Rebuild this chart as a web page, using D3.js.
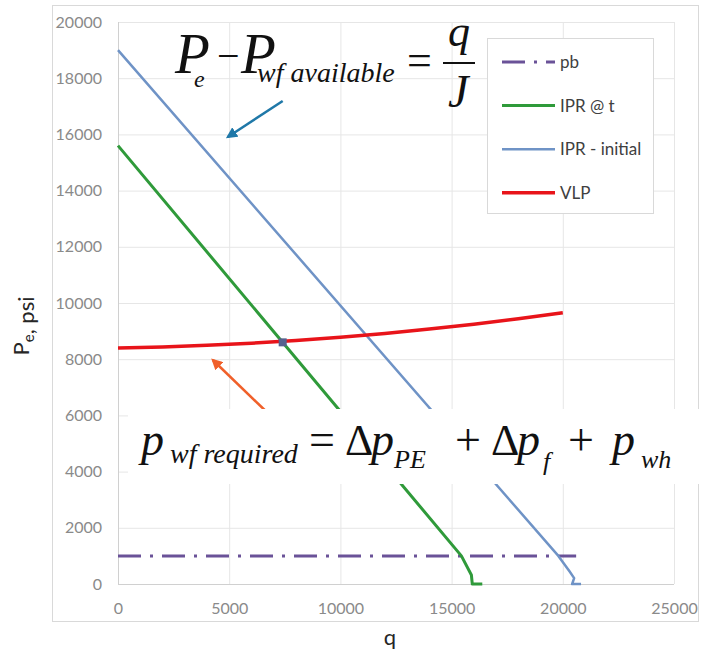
<!DOCTYPE html>
<html>
<head>
<meta charset="utf-8">
<script src="https://cdn.jsdelivr.net/npm/d3@7"></script>
<style>
  body { margin: 0; background: #fff; }
  svg { display: block; }
</style>
</head>
<body>
<div id="chart"></div>
<script>
// axis ticks
var qTicks = [0, 5000, 10000, 15000, 20000, 25000];
var pTicks = [0, 2000, 4000, 6000, 8000, 10000, 12000, 14000, 16000, 18000, 20000];

var seriesNames = ["pb", "IPR @ t", "IPR - initial", "VLP"];

// bubble point pressure
var pbQ = [0, 20600];
var pbP = [1000, 1000];

// IPR at time t
var iprTQ = [0, 15440, 15890, 15930, 16380];
var iprTP = [15600, 1000, 320, 0, 0];

// IPR initial
var iprInitQ = [0, 19800, 20300, 20510, 20420, 20820];
var iprInitP = [19000, 1000, 450, 210, 0, 0];

// VLP
var vlpQ = [0, 2000, 4000, 6000, 8000, 10000, 12000, 14000, 16000, 18000, 20000];
var vlpP = [8400, 8438, 8495, 8571, 8667, 8782, 8917, 9071, 9244, 9438, 9650];

// operating point (IPR @ t x VLP)
var opQ = [7405];
var opP = [8600];

// annotation arrows: q0, p0 -> q1, p1
var arrowAvail = [7405, 17190, 4937, 15910];
var arrowReq = [6687, 6121, 4264, 7972];

var W = 703, H = 662;
var plotL = 118, plotR = 674, plotT = 22, plotB = 584;

var svg = d3.select("#chart").append("svg")
    .attr("width", W)
    .attr("height", H)
    .style("background", "#fff");

var x = d3.scaleLinear().domain([0, 25000]).range([plotL, plotR]);
var y = d3.scaleLinear().domain([0, 20000]).range([plotB, plotT]);

// chart area border
svg.append("rect")
    .attr("x", 52.5).attr("y", 5.5)
    .attr("width", 646).attr("height", 616)
    .attr("fill", "none")
    .attr("stroke", "#d9d9d9");

// gridlines + tick labels
var yAxis = svg.append("g")
    .attr("transform", `translate(${plotL},0)`)
    .call(d3.axisLeft(y).tickValues(pTicks).tickFormat(d3.format("d"))
        .tickSize(-(plotR - plotL)).tickSizeOuter(0).tickPadding(16));
var xAxis = svg.append("g")
    .attr("transform", `translate(0,${plotB})`)
    .call(d3.axisBottom(x).tickValues(qTicks).tickFormat(d3.format("d"))
        .tickSize(-(plotB - plotT)).tickSizeOuter(0).tickPadding(19));

[yAxis, xAxis].forEach(function(g) {
    g.select(".domain").remove();
    g.selectAll(".tick line").attr("stroke", "#e6e6e6");
    g.selectAll(".tick text")
        .style("font-family", "Lato, 'Open Sans', sans-serif")
        .style("font-size", "16px")
        .attr("fill", "#8a8a8a");
});

svg.append("line")
    .attr("x1", plotL + 0.5).attr("x2", plotL + 0.5)
    .attr("y1", plotT).attr("y2", plotB)
    .attr("stroke", "#d0d0d0");
svg.append("line")
    .attr("x1", plotL).attr("x2", plotR)
    .attr("y1", plotB + 0.5).attr("y2", plotB + 0.5)
    .attr("stroke", "#d0d0d0");

var line = d3.line()
    .x(function(d) { return x(d[0]); })
    .y(function(d) { return y(d[1]); });

function zip(a, b) { return a.map(function(v, i) { return [v, b[i]]; }); }

var styles = {
    "pb": {color: "#6a5298", width: 3, dash: "23,9,3,9"},
    "IPR @ t": {color: "#2f9a3a", width: 3, dash: null},
    "IPR - initial": {color: "#6f93c6", width: 2.5, dash: null},
    "VLP": {color: "#e8141a", width: 3.5, dash: null}
};

var series = [
    {name: "pb", data: zip(pbQ, pbP)},
    {name: "IPR @ t", data: zip(iprTQ, iprTP)},
    {name: "IPR - initial", data: zip(iprInitQ, iprInitP)},
    {name: "VLP", data: zip(vlpQ, vlpP)}
];

svg.selectAll("path.series")
    .data(series)
    .enter()
    .append("path")
    .attr("class", "series")
    .attr("d", function(d) { return line(d.data); })
    .attr("fill", "none")
    .attr("stroke", function(d) { return styles[d.name].color; })
    .attr("stroke-width", function(d) { return styles[d.name].width; })
    .attr("stroke-dasharray", function(d) { return styles[d.name].dash; })
    .attr("stroke-linejoin", "round");

// operating point
svg.selectAll("rect.op")
    .data(zip(opQ, opP))
    .enter()
    .append("rect")
    .attr("class", "op")
    .attr("x", function(d) { return x(d[0]) - 4; })
    .attr("y", function(d) { return y(d[1]) - 4; })
    .attr("width", 8).attr("height", 8)
    .attr("fill", "#56618f");

// arrows
var defs = svg.append("defs");
function arrow(id, color, a) {
    defs.append("marker")
        .attr("id", id)
        .attr("viewBox", "0 0 10 10")
        .attr("refX", 8).attr("refY", 5)
        .attr("markerWidth", 4.5).attr("markerHeight", 4.5)
        .attr("markerUnits", "strokeWidth")
        .attr("orient", "auto")
        .append("path")
        .attr("d", "M0,0L10,5L0,10Z")
        .attr("fill", color);
    svg.append("line")
        .attr("x1", x(a[0])).attr("y1", y(a[1]))
        .attr("x2", x(a[2])).attr("y2", y(a[3]))
        .attr("stroke", color)
        .attr("stroke-width", 2.5)
        .attr("marker-end", `url(#${id})`);
}
arrow("arrAvail", "#1f78a8", arrowAvail);
arrow("arrReq", "#f0602a", arrowReq);

// legend
var lg = svg.append("g");
lg.append("rect")
    .attr("x", 487.5).attr("y", 38.5)
    .attr("width", 166).attr("height", 175)
    .attr("fill", "#fff")
    .attr("stroke", "#d9d9d9");
var items = lg.selectAll("g.item")
    .data(seriesNames)
    .enter()
    .append("g")
    .attr("transform", function(d, i) { return `translate(502,${62 + i * 43.6})`; });
items.append("line")
    .attr("x1", 0).attr("x2", 53)
    .attr("stroke", function(d) { return styles[d].color; })
    .attr("stroke-width", function(d) { return styles[d].width; })
    .attr("stroke-dasharray", function(d) { return styles[d].dash; });
items.append("text")
    .attr("x", 58).attr("dy", "0.35em")
    .style("font-family", "Lato, 'Open Sans', sans-serif")
    .style("font-size", "17px")
    .attr("fill", "#404040")
    .text(function(d) { return d; });

// axis titles
svg.append("text")
    .attr("transform", "translate(29,326) rotate(-90)")
    .attr("text-anchor", "middle")
    .style("font-family", "Lato, 'Open Sans', sans-serif")
    .style("font-size", "22px")
    .attr("fill", "#262626")
    .call(function(t) {
        t.append("tspan").text("P");
        t.append("tspan").attr("dy", 5).style("font-size", "15px").text("e");
        t.append("tspan").text(", psi");
    });
svg.append("text")
    .attr("x", 390).attr("y", 645)
    .attr("text-anchor", "middle")
    .style("font-family", "Lato, 'Open Sans', sans-serif")
    .style("font-size", "22px")
    .attr("fill", "#262626")
    .text("q");

// equations
svg.append("rect")
    .attr("x", 128).attr("y", 409)
    .attr("width", 571).attr("height", 75)
    .attr("fill", "#fff");

function piece(t, px, py, size, italic) {
    svg.append("text")
        .attr("x", px).attr("y", py)
        .style("font-family", "'Liberation Serif', 'DejaVu Serif', serif")
        .style("font-size", size + "px")
        .style("font-style", italic ? "italic" : "normal")
        .attr("fill", "#111")
        .text(t);
}

piece("P", 175, 73, 57, true);
piece("e", 194, 87, 24, true);
piece("\u2212", 217, 69, 40, false);
piece("P", 241, 73, 57, true);
piece("wf available", 257, 82, 28, true);
piece("=", 407, 75, 44, false);
piece("q", 448, 46, 44, true);
svg.append("line")
    .attr("x1", 443).attr("x2", 475)
    .attr("y1", 63).attr("y2", 63)
    .attr("stroke", "#111").attr("stroke-width", 2);
piece("J", 448, 107, 46, true);

piece("p", 141, 455, 46, true);
piece("wf required", 170, 463, 28, true);
piece("=", 309, 455, 46, false);
piece("\u0394", 345, 455, 44, false);
piece("p", 371, 455, 46, true);
piece("PE", 394, 468, 26, true);
piece("+", 455, 455, 46, false);
piece("\u0394", 491, 455, 44, false);
piece("p", 517, 455, 46, true);
piece("f", 543, 470, 26, true);
piece("+", 568, 455, 46, false);
piece("p", 612, 455, 46, true);
piece("wh", 641, 468, 26, true);
</script>
</body>
</html>
